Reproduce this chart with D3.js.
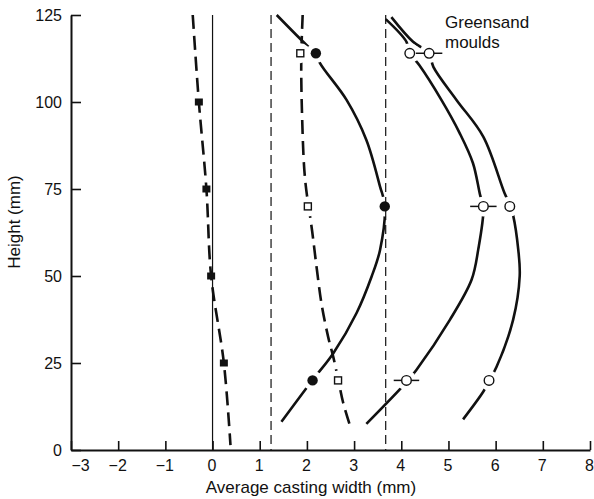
<!DOCTYPE html>
<html>
<head>
<meta charset="utf-8">
<script src="https://cdn.jsdelivr.net/npm/d3@7"></script>
<style>
	body { margin: 0; background: #fff; }
	svg { display: block; font-family: "Liberation Sans", Arial, sans-serif; }
</style>
</head>
<body>
<svg id="chart"></svg>
<script>
// axis ticks
const xTicks = [-3, -2, -1, 0, 1, 2, 3, 4, 5, 6, 7, 8];
const yTicks = [0, 25, 50, 75, 100, 125];

// reference lines (mm)
const zeroLine = 0;
const refLines = [1.24, 3.67];

// filled squares + dashed line
const sqFilledH = [100, 75, 50, 25];
const sqFilledW = [-0.29, -0.13, -0.03, 0.24];
const sqFilledCurve = [[-0.42, 125], [-0.29, 100], [-0.13, 75], [-0.03, 50], [0.24, 25], [0.38, 1.4]];

// open squares + dashed curve
const sqOpenH = [114, 70, 20];
const sqOpenW = [1.86, 2.02, 2.66];
const sqOpenCurve = [[1.91, 125], [1.88, 112], [1.90, 95], [1.96, 78], [2.11, 63], [2.21, 52], [2.31, 42],
	[2.45, 32.5], [2.56, 26.7], [2.67, 19.8], [2.77, 13.5], [2.93, 6.3]];

// filled circles + solid curve
const dotH = [114, 70, 20];
const dotW = [2.19, 3.65, 2.12];
const dotCurve = [[1.36, 125], [1.99, 116.4], [2.19, 114], [2.28, 111.1], [2.84, 100.6], [3.26, 89.1], [3.55, 75.7],
	[3.65, 70.4], [3.55, 57.5], [3.37, 49.8], [3.05, 39.3], [2.56, 27.8], [2.12, 20.1], [1.46, 8.1]];

// greensand moulds, inner curve
const gsAH = [114, 70, 20];
const gsAW = [4.18, 5.74, 4.11];
const gsAErr = [0, 0.28, 0.27];
const gsACurve = [[3.67, 123.8], [4.11, 117.3], [4.18, 114], [4.38, 110.6], [4.85, 100.6], [5.24, 91.0], [5.52, 82.4],
	[5.67, 73.3], [5.74, 69.7], [5.63, 57.5], [5.49, 48.9], [5.03, 37.4], [4.32, 23.0], [4.11, 19.5], [3.26, 7.5]];

// greensand moulds, outer curve
const gsBH = [114, 70, 20];
const gsBW = [4.59, 6.30, 5.86];
const gsBErr = [0.28, 0, 0];
const gsBCurve = [[3.79, 124.4], [4.25, 117.3], [4.59, 114], [4.68, 110.1], [5.17, 100.6], [5.74, 90.0], [6.19, 73.8],
	[6.30, 70.6], [6.37, 67.5], [6.48, 57.5], [6.51, 50], [6.37, 37.4], [6.02, 23.9], [5.86, 19.8], [5.74, 16.8], [5.31, 8.8]];

const config = {
	width: 594, height: 499,
	left: 71, right: 590, top: 15, bottom: 450,
	ink: "#111"
};

const svg = d3.select("#chart")
	.attr("width", config.width)
	.attr("height", config.height);

const x = d3.scaleLinear().domain([-3, 8]).range([config.left, config.right]);
const y = d3.scaleLinear().domain([0, 125]).range([config.bottom, config.top]);

// X axis
const xAxis = svg.append("g")
	.attr("transform", `translate(0, ${config.bottom})`)
	.call(d3.axisBottom(x).tickValues(xTicks).tickSizeInner(-9).tickSizeOuter(0).tickPadding(10));
xAxis.selectAll("text").attr("font-size", 16).attr("font-family", "Liberation Sans, Arial, sans-serif")
	.attr("fill", config.ink)
	.attr("dx", d => d === -3 ? 9 : -1);

// Y axis
const yAxis = svg.append("g")
	.attr("transform", `translate(${config.left}, 0)`)
	.call(d3.axisLeft(y).tickValues(yTicks).tickSizeInner(-10).tickSizeOuter(0).tickPadding(9));
yAxis.selectAll("text").attr("font-size", 16).attr("font-family", "Liberation Sans, Arial, sans-serif")
	.attr("fill", config.ink);

[xAxis, yAxis].forEach(g => {
	g.select(".domain").attr("stroke", config.ink).attr("stroke-width", 2);
	g.selectAll(".tick line").attr("stroke", config.ink).attr("stroke-width", 1.6);
});

// axis titles
svg.append("text")
	.attr("x", 311)
	.attr("y", 493)
	.attr("text-anchor", "middle")
	.attr("font-size", 17)
	.attr("fill", config.ink)
	.text("Average casting width (mm)");

svg.append("text")
	.attr("transform", "translate(20, 222) rotate(-90)")
	.attr("text-anchor", "middle")
	.attr("font-size", 17)
	.attr("fill", config.ink)
	.text("Height (mm)");

// annotation
const note = svg.append("text")
	.attr("x", 445)
	.attr("font-size", 17)
	.attr("fill", config.ink);
note.append("tspan").attr("x", 445).attr("y", 28).text("Greensand");
note.append("tspan").attr("x", 445).attr("y", 48).text("moulds");

// curves
const line = d3.line()
	.x(d => x(d[0]))
	.y(d => y(d[1]))
	.curve(d3.curveCatmullRom.alpha(0.5));

function drawCurve(data, dash) {
	svg.append("path")
		.datum(data)
		.attr("fill", "none")
		.attr("stroke", config.ink)
		.attr("stroke-width", 2.6)
		.attr("stroke-dasharray", dash)
		.attr("d", line);
}

drawCurve(sqFilledCurve, "14,7");
drawCurve(sqOpenCurve, "14,7");
drawCurve(dotCurve, null);
drawCurve(gsACurve, null);
drawCurve(gsBCurve, null);

// white gaps round the markers
function halo(ws, hs, r) {
	svg.append("g").selectAll("circle")
		.data(ws.map((w, i) => [w, hs[i]]))
		.join("circle")
		.attr("cx", d => x(d[0]))
		.attr("cy", d => y(d[1]))
		.attr("r", r)
		.attr("fill", "#fff");
}
halo(sqOpenW, sqOpenH, 10);
halo(dotW, dotH, 10);
halo(gsAW, gsAH, 10);
halo(gsBW, gsBH, 10);

// reference lines
svg.append("line")
	.attr("x1", x(zeroLine)).attr("x2", x(zeroLine))
	.attr("y1", y(125)).attr("y2", y(0))
	.attr("stroke", config.ink).attr("stroke-width", 1.2);

svg.append("g").selectAll("line")
	.data(refLines)
	.join("line")
	.attr("x1", d => x(d)).attr("x2", d => x(d))
	.attr("y1", y(125)).attr("y2", y(0))
	.attr("stroke", config.ink)
	.attr("stroke-width", 1.2)
	.attr("stroke-dasharray", "9,5");

// error bars
function errBars(ws, hs, es) {
	svg.append("g").selectAll("line")
		.data(ws.map((w, i) => [w, hs[i], es[i]]).filter(d => d[2] > 0))
		.join("line")
		.attr("x1", d => x(d[0] - d[2])).attr("x2", d => x(d[0] + d[2]))
		.attr("y1", d => y(d[1])).attr("y2", d => y(d[1]))
		.attr("stroke", config.ink)
		.attr("stroke-width", 1.5);
}
errBars(gsAW, gsAH, gsAErr);
errBars(gsBW, gsBH, gsBErr);

// markers
function squares(ws, hs, filled, w, h) {
	svg.append("g").selectAll("rect")
		.data(ws.map((v, i) => [v, hs[i]]))
		.join("rect")
		.attr("x", d => x(d[0]) - w / 2)
		.attr("y", d => y(d[1]) - h / 2)
		.attr("width", w)
		.attr("height", h)
		.attr("fill", filled ? config.ink : "#fff")
		.attr("stroke", config.ink)
		.attr("stroke-width", filled ? 0 : 1.4);
}
function circles(ws, hs, filled) {
	svg.append("g").selectAll("circle")
		.data(ws.map((v, i) => [v, hs[i]]))
		.join("circle")
		.attr("cx", d => x(d[0]))
		.attr("cy", d => y(d[1]))
		.attr("r", filled ? 5.2 : 4.8)
		.attr("fill", filled ? config.ink : "#fff")
		.attr("stroke", config.ink)
		.attr("stroke-width", filled ? 0 : 1.4);
}

squares(sqFilledW, sqFilledH, true, 8, 7);
squares(sqOpenW, sqOpenH, false, 7, 7);
circles(dotW, dotH, true);
circles(gsAW, gsAH, false);
circles(gsBW, gsBH, false);
</script>
</body>
</html>
